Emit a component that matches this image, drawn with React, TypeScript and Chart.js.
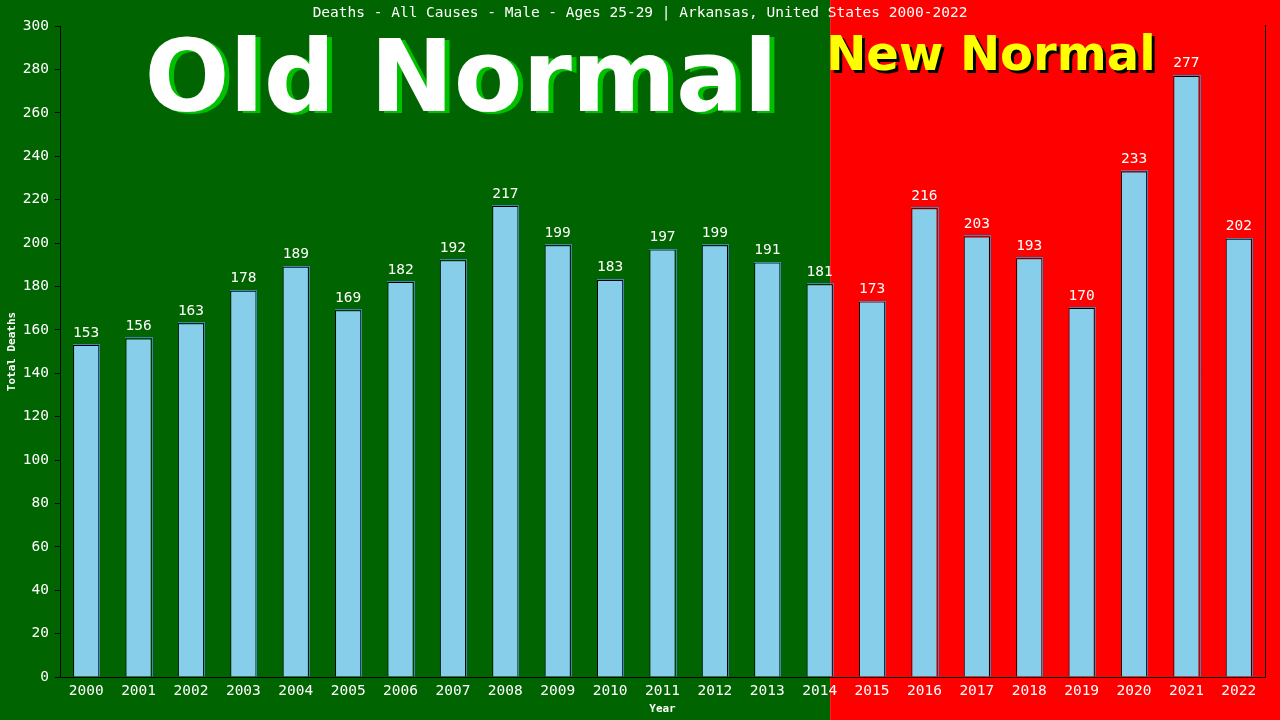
import { useEffect, useRef } from 'react';
import { Chart, registerables } from 'chart.js';

Chart.register(...registerables);

const TITLE = 'Deaths - All Causes - Male - Ages 25-29 | Arkansas, United States 2000-2022';
const X_TITLE = 'Year';
const Y_TITLE = 'Total Deaths';
const OLD_LABEL = 'Old Normal';
const NEW_LABEL = 'New Normal';

const YEARS = [
  '2000', '2001', '2002', '2003', '2004', '2005', '2006', '2007', '2008', '2009', '2010', '2011',
  '2012', '2013', '2014', '2015', '2016', '2017', '2018', '2019', '2020', '2021', '2022',
];
const DEATHS = [
  153, 156, 163, 178, 189, 169, 182, 192, 217, 199, 183, 197,
  199, 191, 181, 173, 216, 203, 193, 170, 233, 277, 202,
];
const Y_MIN = 0;
const Y_MAX = 300;
const Y_STEP = 20;
// boundary between the "old" and "new" periods, in category units
const SPLIT_CATEGORY = 14.7;

const GREEN = '#006400';
const RED = '#ff0000';
const BAR = '#87ceeb';
const MONO = '"DejaVu Sans Mono", monospace';
const SANS_BOLD = '"DejaVu Sans", sans-serif';

const decorPlugin = {
  id: 'decor',
  beforeDraw(chart: any) {
    const { ctx, width, height } = chart;
    const xs = chart.scales.x;
    const split = xs.left + ((xs.right - xs.left) * SPLIT_CATEGORY) / YEARS.length;
    ctx.save();
    ctx.fillStyle = GREEN;
    ctx.fillRect(0, 0, split, height);
    ctx.fillStyle = RED;
    ctx.fillRect(split, 0, width - split, height);
    ctx.restore();
  },
  beforeDatasetsDraw(chart: any) {
    const { ctx, width, chartArea } = chart;
    const xs = chart.scales.x;
    const split = xs.left + ((xs.right - xs.left) * SPLIT_CATEGORY) / YEARS.length;
    ctx.save();
    // title
    ctx.font = `14.5px ${MONO}`;
    ctx.fillStyle = '#ffffff';
    ctx.textAlign = 'center';
    ctx.textBaseline = 'middle';
    ctx.fillText(TITLE, width / 2, 13);

    // Old Normal
    ctx.font = `bold 100px ${SANS_BOLD}`;
    ctx.textAlign = 'center';
    ctx.textBaseline = 'alphabetic';
    const oldX = (chartArea.left + split) / 2 + 16;
    ctx.fillStyle = '#00c000';
    ctx.fillText(OLD_LABEL, oldX + 5, 111 + 2);
    ctx.fillStyle = '#ffffff';
    ctx.fillText(OLD_LABEL, oldX, 111);

    // New Normal
    ctx.font = `bold 48px ${SANS_BOLD}`;
    ctx.textAlign = 'left';
    ctx.fillStyle = '#000000';
    ctx.fillText(NEW_LABEL, split - 4 + 3, 70 + 3);
    ctx.fillStyle = '#ffff00';
    ctx.fillText(NEW_LABEL, split - 4, 70);

    // right border
    ctx.strokeStyle = '#000000';
    ctx.lineWidth = 1;
    ctx.beginPath();
    ctx.moveTo(Math.round(chartArea.right) + 0.5, chartArea.top - 1);
    ctx.lineTo(Math.round(chartArea.right) + 0.5, chartArea.bottom);
    ctx.stroke();
    ctx.restore();
  },
  afterDatasetsDraw(chart: any) {
    const { ctx } = chart;
    const meta = chart.getDatasetMeta(0);
    ctx.save();
    meta.data.forEach((bar: any, i: number) => {
      const left = bar.x - bar.width / 2;
      const right = bar.x + bar.width / 2;
      // shadow edge on top and right
      ctx.strokeStyle = '#4682b4';
      ctx.lineWidth = 1;
      ctx.beginPath();
      ctx.moveTo(Math.round(left), Math.round(bar.y) - 0.5);
      ctx.lineTo(Math.round(right) + 1, Math.round(bar.y) - 0.5);
      ctx.moveTo(Math.round(right) + 0.5, Math.round(bar.y) - 1);
      ctx.lineTo(Math.round(right) + 0.5, bar.base);
      ctx.stroke();
      // value label
      ctx.font = `14.5px ${MONO}`;
      ctx.fillStyle = '#ffffff';
      ctx.textAlign = 'center';
      ctx.textBaseline = 'bottom';
      ctx.fillText(String(DEATHS[i]), bar.x, bar.y - 5);
    });
    ctx.restore();
  },
};

export default function App() {
  const canvasRef = useRef<HTMLCanvasElement | null>(null);

  useEffect(() => {
    document.body.style.margin = '0';
    const canvas = canvasRef.current;
    if (!canvas) return;
    const chart = new Chart(canvas, {
      type: 'bar',
      data: {
        labels: YEARS,
        datasets: [
          {
            data: DEATHS,
            backgroundColor: BAR,
            borderColor: '#000000',
            borderWidth: 1,
            barPercentage: 0.5,
            categoryPercentage: 1,
          },
        ],
      },
      options: {
        animation: false,
        responsive: true,
        maintainAspectRatio: false,
        devicePixelRatio: 1,
        layout: { padding: { top: 26, right: 15, left: 0, bottom: 0 } },
        plugins: {
          legend: { display: false },
          title: { display: false },
          tooltip: { enabled: false },
        },
        scales: {
          x: {
            afterFit(scale: any) {
              scale.height = 43;
            },
            grid: { display: false, drawTicks: false },
            border: { display: true, color: '#000000', width: 1 },
            ticks: {
              color: '#ffffff',
              font: { family: MONO, size: 14.5 },
              padding: 6,
              maxRotation: 0,
              autoSkip: false,
            },
            title: {
              display: true,
              text: X_TITLE,
              color: '#ffffff',
              font: { family: MONO, size: 11, weight: 'bold' },
              padding: { top: 0, bottom: 4 },
            },
          },
          y: {
            min: Y_MIN,
            max: Y_MAX,
            afterFit(scale: any) {
              scale.width = 60;
            },
            grid: {
              drawOnChartArea: false,
              drawTicks: true,
              tickLength: 5,
              color: '#000000',
            },
            border: { display: true, color: '#000000', width: 1 },
            ticks: {
              stepSize: Y_STEP,
              color: '#ffffff',
              font: { family: MONO, size: 14.5 },
              padding: 6,
            },
            title: {
              display: true,
              text: Y_TITLE,
              color: '#ffffff',
              font: { family: MONO, size: 11, weight: 'bold' },
              padding: { top: 6, bottom: 0 },
            },
          },
        },
      },
      plugins: [decorPlugin],
    });
    return () => chart.destroy();
  }, []);

  return (
    <div style={{ position: 'fixed', left: 0, top: 0, width: 1280, height: 720 }}>
      <canvas ref={canvasRef} />
    </div>
  );
}
